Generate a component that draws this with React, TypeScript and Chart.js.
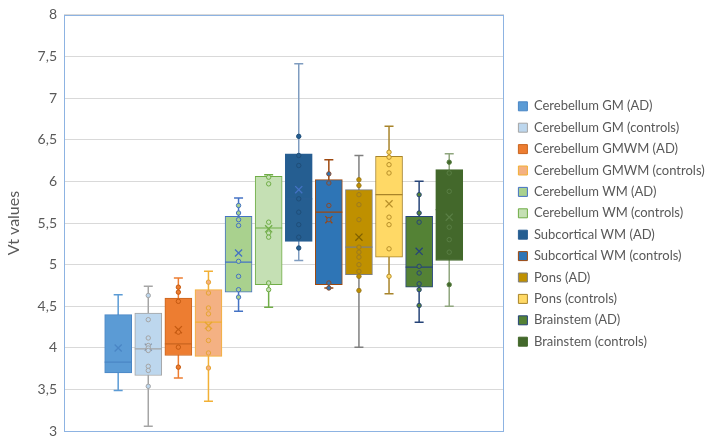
import React, { useEffect, useRef } from 'react';
import { Chart, registerables } from 'chart.js';

Chart.register(...registerables);

const labels = [
  'Cerebellum GM (AD)',
  'Cerebellum GM (controls)',
  'Cerebellum GMWM (AD)',
  'Cerebellum GMWM (controls)',
  'Cerebellum WM (AD)',
  'Cerebellum WM (controls)',
  'Subcortical WM (AD)',
  'Subcortical WM (controls)',
  'Pons (AD)',
  'Pons (controls)',
  'Brainstem (AD)',
  'Brainstem (controls)',
];

const q1 = [3.70, 3.67, 3.91, 3.90, 4.67, 4.76, 5.28, 4.76, 4.88, 5.09, 4.73, 5.05];
const q3 = [4.40, 4.42, 4.60, 4.70, 5.58, 6.06, 6.33, 6.02, 5.90, 6.30, 5.58, 6.14];
const medians = [3.83, 3.99, 4.05, 4.31, 5.03, 5.44, 5.79, 5.63, 5.21, 5.84, 4.97, 5.66];
const whiskerMin = [3.49, 3.06, 3.64, 3.36, 4.44, 4.49, 5.05, 4.72, 4.01, 4.65, 4.31, 4.50];
const whiskerMax = [4.64, 4.74, 4.84, 4.92, 5.80, 6.08, 7.41, 6.26, 6.31, 6.66, 6.00, 6.33];
const means = [4.00, 4.01, 4.22, 4.27, 5.14, 5.43, 5.90, 5.54, 5.33, 5.73, 5.16, 5.57];

const points: number[][] = [
  [],
  [4.63, 4.34, 4.12, 4.03, 4.00, 3.97, 3.78, 3.73, 3.54],
  [4.73, 4.67, 4.56, 4.19, 4.01, 3.77],
  [4.79, 4.66, 4.48, 4.41, 4.23, 4.09, 3.94, 3.76],
  [5.71, 5.62, 5.54, 5.47, 5.04, 4.86, 4.70, 4.61],
  [6.05, 5.97, 5.51, 5.38, 5.33, 4.78, 4.70],
  [6.54, 6.31, 6.19, 5.79, 5.63, 5.48, 5.33, 5.20],
  [6.09, 5.98, 5.71, 5.54, 4.78, 4.72],
  [6.02, 5.95, 5.84, 5.72, 5.54, 5.21, 5.15, 5.09, 5.00, 4.92, 4.86, 4.69],
  [6.35, 6.29, 6.20, 6.10, 5.57, 5.48, 5.19, 4.86],
  [5.84, 5.62, 5.51, 4.98, 4.90, 4.77, 4.70, 4.51],
  [6.23, 6.10, 5.88, 5.45, 5.30, 5.15, 4.76],
];

const yTicks = [3, 3.5, 4, 4.5, 5, 5.5, 6, 6.5, 7, 7.5, 8];

// styles
const fills = ['#5B9BD5', '#BDD7EE', '#ED7D31', '#F4B183', '#A9D18E', '#C5E0B4', '#255E91', '#2E75B6', '#BF9000', '#FFD966', '#548235', '#43682B'];
const borders = ['#4A86C5', '#A5A5A5', '#C9651F', '#F2B035', '#4472C4', '#70AD47', '#2A5F93', '#9E480E', '#7F7F7F', '#A8842A', '#264478', '#43682B'];
const whiskerColors = ['#5B9BD5', '#A5A5A5', '#ED7D31', '#F2B035', '#4472C4', '#70AD47', '#7F9CC0', '#9E480E', '#7F7F7F', '#A8842A', '#264478', '#8FA67E'];
const pointBorders = ['#4A86C5', '#A5A5A5', '#C55A11', '#E6A532', '#4472C4', '#70AD47', '#1F4E79', '#8B4A2B', '#9C7A20', '#B8902A', '#264478', '#5A7F45'];
const pointFills = ['#5B9BD5', '#BDD7EE', '#ED7D31', '#F4B183', '#A9D18E', '#C5E0B4', '#255E91', '#2E75B6', '#BF9000', '#FFD966', '#548235', '#43682B'];
const meanColors = ['#4A86C5', '#8497B0', '#C55A11', '#E6A532', '#4472C4', '#70AD47', '#4472C4', '#9E480E', '#7F6000', '#B8902A', '#264478', '#5A7F45'];

const FONT = 'Lato, "Open Sans", sans-serif';

const framePlugin = {
  id: 'frame',
  beforeLayout(chart: any) {
    const lg = chart.legend;
    if (lg && !lg.__patched) {
      const origFit = lg.fit.bind(lg);
      lg.fit = function () {
        origFit();
        this.width = 195;
      };
      const origDraw = lg.draw.bind(lg);
      lg.draw = function () {
        const c = this.ctx;
        c.save();
        c.translate(0, 2);
        origDraw();
        c.restore();
      };
      lg.__patched = true;
    }
  },
  afterDraw(chart: any) {
    const { ctx, chartArea } = chart;
    ctx.save();
    ctx.strokeStyle = '#8DB3E2';
    ctx.lineWidth = 1;
    ctx.strokeRect(
      Math.round(chartArea.left) + 0.5,
      Math.round(chartArea.top) + 0.5,
      Math.round(chartArea.right - chartArea.left) - 1,
      Math.round(chartArea.bottom - chartArea.top) - 1,
    );
    ctx.restore();
  },
};

export default function App() {
  const ref = useRef<HTMLCanvasElement>(null);

  useEffect(() => {
    document.body.style.margin = '0';
    const canvas = ref.current;
    if (!canvas) return;
    const datasets: any[] = [];

    labels.forEach((label, i) => {
      datasets.push({
        type: 'bar',
        label,
        data: [{ x: i + 1, y: [q1[i], q3[i]] }],
        backgroundColor: fills[i],
        borderColor: borders[i],
        borderWidth: 1,
        borderSkipped: false,
        barThickness: 27,
        grouped: false,
        order: 2,
      });
    });

    labels.forEach((label, i) => {
      datasets.push({
        type: 'line',
        label: '__whisker' + i,
        data: [
          { x: i + 1, y: whiskerMin[i] },
          { x: i + 1, y: whiskerMax[i] },
        ],
        borderColor: whiskerColors[i],
        borderWidth: 1.5,
        pointStyle: 'line',
        pointRadius: 4.5,
        pointBorderColor: whiskerColors[i],
        pointBorderWidth: 1.5,
        order: 3,
      });
    });

    datasets.push({
      type: 'line',
      label: '__median',
      data: medians.map((m, i) => ({ x: i + 1, y: m })),
      showLine: false,
      pointStyle: 'line',
      pointRadius: 13.5,
      pointBorderColor: borders,
      pointBorderWidth: 1.2,
      order: 1,
    });

    points.forEach((arr, i) => {
      datasets.push({
        type: 'line',
        label: '__pts' + i,
        data: arr.map((v) => ({ x: i + 1, y: v })),
        showLine: false,
        pointStyle: 'circle',
        pointRadius: 2.2,
        pointBorderWidth: 1,
        pointBorderColor: pointBorders[i],
        pointBackgroundColor: pointFills[i],
        order: 0,
      });
    });

    datasets.push({
      type: 'line',
      label: '__mean',
      data: means.map((m, i) => ({ x: i + 1, y: m })),
      showLine: false,
      pointStyle: 'crossRot',
      pointRadius: 5,
      pointBorderWidth: 1.3,
      pointBorderColor: meanColors,
      order: 0,
    });

    const chart = new Chart(canvas, {
      type: 'bar',
      data: { datasets },
      options: {
        responsive: false,
        animation: false,
        layout: { padding: { top: 7, bottom: 9, left: 0, right: 0 } },
        plugins: {
          tooltip: { enabled: false },
          legend: {
            position: 'right',
            align: 'center',
            labels: {
              filter: (item: any) => item.datasetIndex < 12,
              boxWidth: 9,
              boxHeight: 9,
              padding: 8.4,
              color: '#595959',
              font: { family: FONT, size: 13 },
            },
          },
        },
        scales: {
          x: {
            type: 'linear',
            display: false,
            offset: false,
            min: -0.8,
            max: 13.82,
            grid: { offset: false },
          },
          y: {
            type: 'linear',
            min: 3,
            max: 8,
            afterFit: (scale: any) => {
              scale.width = 64;
            },
            afterBuildTicks: (scale: any) => {
              scale.ticks = yTicks.map((v) => ({ value: v }));
            },
            ticks: {
              padding: 7,
              color: '#595959',
              font: { family: FONT, size: 14, lineHeight: 1 },
              callback: (v: any) => String(v).replace('.', ','),
            },
            grid: { color: '#D9D9D9', lineWidth: 1, drawTicks: false },
            border: { display: false },
            title: {
              display: true,
              text: 'Vt values',
              color: '#595959',
              font: { family: FONT, size: 16 },
              padding: { top: 4, bottom: 0 },
            },
          },
          y2: {
            type: 'linear',
            position: 'right',
            display: true,
            afterFit: (scale: any) => {
              scale.width = 6;
            },
            ticks: { display: false },
            grid: { display: false, drawTicks: false },
            border: { display: false },
          },
        },
      } as any,
      plugins: [framePlugin],
    });

    return () => chart.destroy();
  }, []);

  return (
    <div style={{ width: 705, height: 446 }}>
      <canvas ref={ref} width={705} height={446} style={{ display: 'block' }} />
    </div>
  );
}
